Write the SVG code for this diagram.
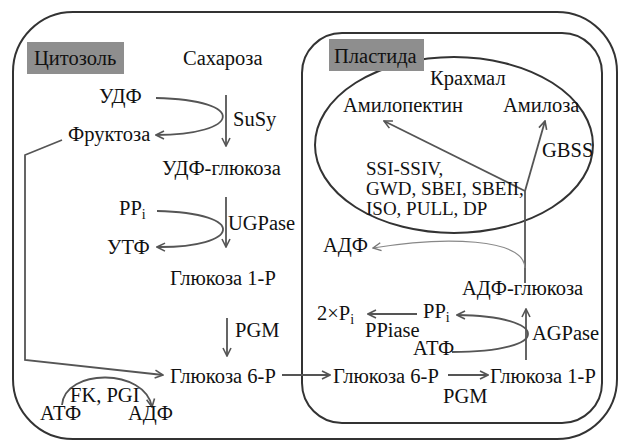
<svg xmlns="http://www.w3.org/2000/svg" width="619" height="441" viewBox="0 0 619 441" font-family="'Liberation Serif', 'Times New Roman', Tinos, 'DejaVu Serif', serif">
<style>
text{font-family:'Liberation Serif','Times New Roman',Tinos,'DejaVu Serif',serif;font-size:20.5px;fill:#111}
.sm{font-size:19px}
.sub{font-size:14px}
.box{fill:#8e8e8e}
.wall{fill:none;stroke:#333;stroke-width:2}
.ar{fill:none;stroke:#555;stroke-width:1.8}
.thin{fill:none;stroke:#888;stroke-width:1.2}
</style>
<defs>
<marker id="ah" viewBox="0 0 10 10" refX="9" refY="5" markerWidth="10" markerHeight="10" markerUnits="userSpaceOnUse" orient="auto">
<path d="M1,1 L9,5 L1,9" fill="none" stroke="#555" stroke-width="1.6"/>
</marker>
<marker id="ahl" viewBox="0 0 10 10" refX="9" refY="5" markerWidth="10" markerHeight="10" markerUnits="userSpaceOnUse" orient="auto">
<path d="M1,1 L9,5 L1,9" fill="none" stroke="#777" stroke-width="1.4"/>
</marker>
</defs>
<rect width="619" height="441" fill="#fff"/>
<g id="compartments">
<rect id="cell" class="wall" x="13" y="12" width="604" height="427" rx="60" ry="60"/>
<rect id="plastid" class="wall" x="302" y="33" width="300" height="390" rx="40" ry="40"/>
<ellipse id="starch" class="wall" cx="454" cy="145" rx="139" ry="88"/>
</g>
<g id="connectors">
<path class="ar" marker-end="url(#ah)" d="M226,95 L226,146"/>
<path class="ar" marker-end="url(#ah)" d="M156,98 C250,100 240,135 156,135"/>
<path class="ar" marker-end="url(#ah)" d="M62,140 L25,155 L25,360 L163,375"/>
<path class="ar" marker-end="url(#ah)" d="M226,197 L226,247"/>
<path class="ar" marker-end="url(#ah)" d="M157,211 C250,213 240,248 157,247"/>
<path class="ar" marker-end="url(#ah)" d="M227,318 L227,356"/>
<path class="ar" marker-end="url(#ah)" d="M62,405 C65,368 145,368 152,407"/>
<path class="ar" marker-end="url(#ah)" d="M282,375 L330,375"/>
<path class="ar" marker-end="url(#ah)" d="M448,375 L488,375"/>
<path class="ar" marker-end="url(#ah)" d="M526,360 L526,309"/>
<path class="ar" marker-end="url(#ah)" d="M452,352 C555,352 550,316 457,315"/>
<path class="ar" marker-end="url(#ah)" d="M417,314 L368,314"/>
<path class="ar" d="M525,283 L525,190"/>
<path class="ar" marker-end="url(#ah)" d="M525,191 L384,121"/>
<path class="ar" marker-end="url(#ah)" d="M525,191 L545,121"/>
<path class="thin" marker-end="url(#ahl)" d="M525,268 C524,238 445,236 373,248"/>
</g>
<g id="label-cytosol"><rect class="box" x="27" y="42" width="97" height="32"/><text x="34" y="65">Цитозоль</text></g>
<g id="label-plastid"><rect class="box" x="329" y="39" width="95" height="32"/><text x="334" y="63">Пластида</text></g>
<g id="n-sucrose"><text x="183" y="65">Сахароза</text></g>
<g id="n-udp"><text x="99" y="103">УДФ</text></g>
<g id="e-susy"><text x="233" y="126">SuSy</text></g>
<g id="n-fructose"><text x="68" y="141">Фруктоза</text></g>
<g id="n-udpglc"><text x="162" y="175">УДФ-глюкоза</text></g>
<g id="n-ppi-c"><text x="119" y="215">PP<tspan class="sub" dy="4">i</tspan></text></g>
<g id="e-ugpase"><text x="228" y="230">UGPase</text></g>
<g id="n-utp"><text x="107" y="254">УТФ</text></g>
<g id="n-g1p-c"><text x="170" y="285">Глюкоза 1-P</text></g>
<g id="e-pgm-c"><text x="235" y="337">PGM</text></g>
<g id="n-g6p-c"><text x="170" y="383">Глюкоза 6-P</text></g>
<g id="e-fk"><text x="70" y="402">FK, PGI</text></g>
<g id="n-atp-c"><text x="40" y="420">АТФ</text></g>
<g id="n-adp-c"><text x="128" y="420">АДФ</text></g>
<g id="n-starch"><text x="430" y="85">Крахмал</text></g>
<g id="n-amylopectin"><text x="343" y="112">Амилопектин</text></g>
<g id="n-amylose"><text x="503" y="112">Амилоза</text></g>
<g id="e-gbss"><text x="542" y="157">GBSS</text></g>
<g id="e-enzymes"><text class="sm" x="366" y="175">SSI-SSIV,</text><text class="sm" x="366" y="195">GWD, SBEI, SBEII,</text><text class="sm" x="366" y="215">ISO, PULL, DP</text></g>
<g id="n-adp-p"><text x="323" y="252">АДФ</text></g>
<g id="n-adpglc"><text x="462" y="295">АДФ-глюкоза</text></g>
<g id="n-ppi-p"><text x="423" y="318">PP<tspan class="sub" dy="4">i</tspan></text></g>
<g id="n-2pi"><text x="317" y="320">2×P<tspan class="sub" dy="4">i</tspan></text></g>
<g id="e-ppiase"><text x="365" y="337">PPiase</text></g>
<g id="e-agpase"><text x="532" y="340">AGPase</text></g>
<g id="n-atp-p"><text x="413" y="355">АТФ</text></g>
<g id="n-g6p-p"><text x="333" y="383">Глюкоза 6-P</text></g>
<g id="n-g1p-p"><text x="490" y="383">Глюкоза 1-P</text></g>
<g id="e-pgm-p"><text x="443" y="403">PGM</text></g>
</svg>
